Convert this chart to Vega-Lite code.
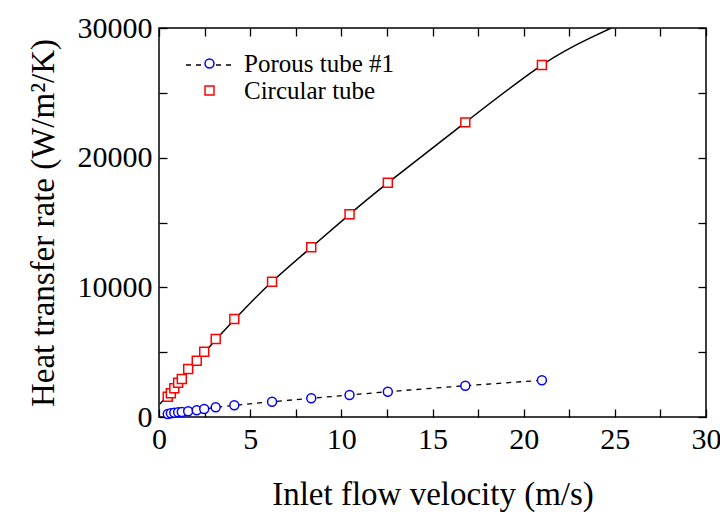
{
  "$schema": "https://vega.github.io/schema/vega-lite/v6.json",
  "width": 547,
  "height": 389,
  "autosize": {"type": "none"},
  "padding": {"left": 159, "top": 28, "right": 14, "bottom": 99},
  "background": "white",
  "config": {
    "font": "Liberation Serif",
    "view": {"stroke": "black", "strokeWidth": 1.5},
    "axis": {
      "grid": false,
      "domain": false,
      "tickColor": "black",
      "tickWidth": 1.3,
      "tickSize": -8,
      "labelColor": "black",
      "titleColor": "black",
      "labelFont": "Liberation Serif",
      "titleFont": "Liberation Serif",
      "labelFontSize": 30,
      "titleFontSize": 33,
      "titleFontWeight": "normal"
    },
    "legend": {
      "labelFont": "Liberation Serif",
      "labelColor": "black"
    }
  },
  "datasets": {
    "points": [
      {"series": "Porous tube #1", "v": 0.48, "h": 231},
      {"series": "Porous tube #1", "v": 0.65, "h": 285},
      {"series": "Porous tube #1", "v": 0.84, "h": 331},
      {"series": "Porous tube #1", "v": 1.05, "h": 362},
      {"series": "Porous tube #1", "v": 1.25, "h": 385},
      {"series": "Porous tube #1", "v": 1.6, "h": 440},
      {"series": "Porous tube #1", "v": 2.07, "h": 517},
      {"series": "Porous tube #1", "v": 2.48, "h": 617},
      {"series": "Porous tube #1", "v": 3.11, "h": 748},
      {"series": "Porous tube #1", "v": 4.13, "h": 902},
      {"series": "Porous tube #1", "v": 6.2, "h": 1180},
      {"series": "Porous tube #1", "v": 8.35, "h": 1442},
      {"series": "Porous tube #1", "v": 10.45, "h": 1696},
      {"series": "Porous tube #1", "v": 12.55, "h": 1950},
      {"series": "Porous tube #1", "v": 16.8, "h": 2413},
      {"series": "Porous tube #1", "v": 21.0, "h": 2830},
      {"series": "Circular tube", "v": 0.48, "h": 1565},
      {"series": "Circular tube", "v": 0.65, "h": 1827},
      {"series": "Circular tube", "v": 0.84, "h": 2213},
      {"series": "Circular tube", "v": 1.05, "h": 2645},
      {"series": "Circular tube", "v": 1.25, "h": 2930},
      {"series": "Circular tube", "v": 1.6, "h": 3700},
      {"series": "Circular tube", "v": 2.07, "h": 4340},
      {"series": "Circular tube", "v": 2.48, "h": 5035},
      {"series": "Circular tube", "v": 3.11, "h": 6014},
      {"series": "Circular tube", "v": 4.13, "h": 7556},
      {"series": "Circular tube", "v": 6.2, "h": 10432},
      {"series": "Circular tube", "v": 8.35, "h": 13084},
      {"series": "Circular tube", "v": 10.45, "h": 15630},
      {"series": "Circular tube", "v": 12.55, "h": 18065},
      {"series": "Circular tube", "v": 16.8, "h": 22720},
      {"series": "Circular tube", "v": 21.0, "h": 27140}
    ],
    "curve": [
      {"v": 0.05, "h": 1000},
      {"v": 1.1, "h": 2650},
      {"v": 2.07, "h": 4300},
      {"v": 4.13, "h": 7500},
      {"v": 6.2, "h": 10430},
      {"v": 8.35, "h": 13080},
      {"v": 10.45, "h": 15630},
      {"v": 12.55, "h": 18060},
      {"v": 16.8, "h": 22720},
      {"v": 21.0, "h": 27140},
      {"v": 23.6, "h": 29200},
      {"v": 24.8, "h": 30000}
    ]
  },
  "layer": [
    {
      "data": {"name": "curve"},
      "mark": {"type": "line", "color": "black", "strokeWidth": 1.5, "interpolate": "natural", "clip": true},
      "encoding": {
        "x": {
          "field": "v", "type": "quantitative",
          "scale": {"domain": [0, 30], "nice": false},
          "axis": {
            "orient": "bottom",
            "values": [0, 2.5, 5, 7.5, 10, 12.5, 15, 17.5, 20, 22.5, 25, 27.5, 30],
            "labelExpr": "datum.value % 5 === 0 ? datum.label : ''",
            "labelPadding": 15,
            "labelFlush": false,
            "labelOverlap": false,
            "title": "Inlet flow velocity (m/s)",
            "titlePadding": 24
          }
        },
        "y": {
          "field": "h", "type": "quantitative",
          "scale": {"domain": [0, 30000], "nice": false},
          "axis": {
            "orient": "left",
            "values": [0, 5000, 10000, 15000, 20000, 25000, 30000],
            "format": "d",
            "labelExpr": "datum.value % 10000 === 0 ? datum.label : ''",
            "labelPadding": 15,
            "labelFlush": false,
            "labelOverlap": false,
            "title": "Heat transfer rate (W/m²/K)",
            "titlePadding": 17
          }
        }
      }
    },
    {
      "data": {"name": "points"},
      "transform": [{"filter": "datum.series === 'Porous tube #1'"}],
      "mark": {"type": "line", "color": "black", "strokeWidth": 1.3},
      "encoding": {
        "x": {
          "field": "v", "type": "quantitative",
          "axis": {"orient": "top", "values": [0, 2.5, 5, 7.5, 10, 12.5, 15, 17.5, 20, 22.5, 25, 27.5, 30], "labels": false, "title": null}
        },
        "y": {
          "field": "h", "type": "quantitative",
          "axis": {"orient": "right", "values": [0, 5000, 10000, 15000, 20000, 25000, 30000], "labels": false, "title": null}
        },
        "strokeDash": {
          "field": "series", "type": "nominal",
          "scale": {"domain": ["Porous tube #1"], "range": [[5, 5]]},
          "legend": {
            "orient": "none", "legendX": 26, "legendY": 12, "title": null,
            "symbolType": "stroke", "symbolSize": 2304, "symbolStrokeColor": "black",
            "symbolStrokeWidth": 1.3, "labelExpr": "''", "labelFontSize": 1, "padding": 0
          }
        }
      }
    },
    {
      "data": {"name": "points"},
      "mark": {"type": "point", "filled": false, "fill": "white", "fillOpacity": 1, "strokeWidth": 1.5, "size": 80, "opacity": 1},
      "encoding": {
        "x": {"field": "v", "type": "quantitative", "axis": null},
        "y": {"field": "h", "type": "quantitative", "axis": null},
        "shape": {
          "field": "series", "type": "nominal",
          "scale": {"domain": ["Porous tube #1", "Circular tube"], "range": ["circle", "square"]},
          "legend": {
            "orient": "none", "legendX": 38, "legendY": 23, "title": null,
            "labelFontSize": 25, "labelOffset": 22, "symbolSize": 80, "symbolStrokeWidth": 1.5,
            "symbolFillColor": "white", "rowPadding": 1, "padding": 0
          }
        },
        "stroke": {
          "field": "series", "type": "nominal",
          "scale": {"domain": ["Porous tube #1", "Circular tube"], "range": ["#0000ff", "#ff0000"]},
          "legend": {
            "orient": "none", "legendX": 38, "legendY": 23, "title": null,
            "labelFontSize": 25, "labelOffset": 22, "symbolSize": 80, "symbolStrokeWidth": 1.5,
            "symbolFillColor": "white", "rowPadding": 1, "padding": 0
          }
        }
      }
    }
  ],
  "resolve": {"axis": {"x": "independent", "y": "independent"}}
}
